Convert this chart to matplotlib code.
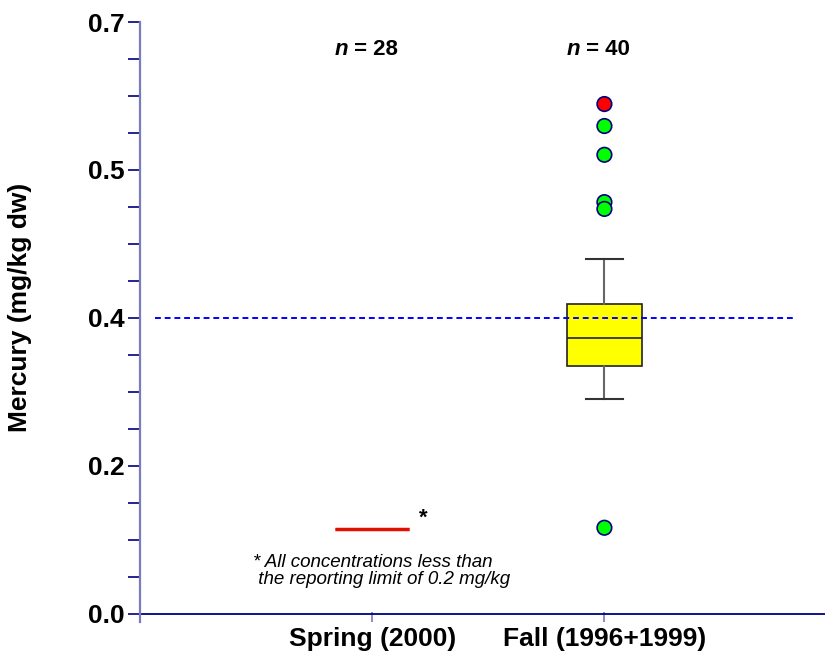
import matplotlib.pyplot as plt
from matplotlib.ticker import MultipleLocator

# data
seasons = ['Spring (2000)', 'Fall (1996+1999)']
n_counts = [28, 40]
spring_value = 0.1005          # all below reporting limit
fall_whislo = 0.254
fall_q1 = 0.293
fall_med = 0.326
fall_q3 = 0.367
fall_whishi = 0.420
fall_outliers = [0.603, 0.577, 0.543, 0.487, 0.479, 0.102]
outlier_colors = ['red', 'lime', 'lime', 'lime', 'lime', 'lime']
guide_level = 0.35
ytick_vals = [0.0, 0.175, 0.35, 0.525, 0.7]
ytick_labels = ['0.0', '0.2', '0.4', '0.5', '0.7']

plt.rcParams['font.family'] = ['Liberation Sans', 'DejaVu Sans']

fig = plt.figure(figsize=(8.3, 6.55), dpi=100)
ax = fig.add_axes([140/830, 33.4/655, 685/830, 599.6/655])

navy = '#000080'
pale = '#7a7abf'

spring_stats = dict(med=spring_value, q1=spring_value, q3=spring_value,
                    whislo=spring_value, whishi=spring_value, fliers=[])
ax.bxp([spring_stats], positions=[1], widths=0.32, patch_artist=True,
       showcaps=False,
       boxprops=dict(facecolor='#ff8c1a', edgecolor='red', linewidth=2.5),
       medianprops=dict(color='#dd1100', linewidth=2.0),
       whiskerprops=dict(linewidth=0))

fall_stats = dict(med=fall_med, q1=fall_q1, q3=fall_q3,
                  whislo=fall_whislo, whishi=fall_whishi, fliers=[])
ax.bxp([fall_stats], positions=[2], widths=0.32, patch_artist=True,
       boxprops=dict(facecolor='yellow', edgecolor='#222222', linewidth=1.2),
       medianprops=dict(color='#222222', linewidth=1.2),
       whiskerprops=dict(color='#666666', linewidth=1.5),
       capprops=dict(color='#333333', linewidth=1.5), capwidths=0.16)

ax.scatter([2] * len(fall_outliers), fall_outliers, s=110, c=outlier_colors,
           edgecolors=navy, linewidths=1.2, zorder=4)

ax.plot([0.065, 2.82], [guide_level, guide_level], color='blue',
        linestyle=(0, (3, 2)), linewidth=1.4, zorder=3)
ax.axhline(0, color=navy, linewidth=1.3)

for i, n in enumerate(n_counts):
    xn = i + 1 - 0.105
    ax.text(xn, 0.667, 'n', ha='right', va='center', fontsize=16,
            fontweight='bold', style='italic')
    ax.text(xn, 0.667, f' = {n}', ha='left', va='center', fontsize=16,
            fontweight='bold')

ax.text(1.22, 0.113, '*', fontsize=16, fontweight='bold', ha='center', va='center')
ax.text(0.487, 0.051, '* All concentrations less than\n the reporting limit of 0.2 mg/kg',
        fontsize=13.5, style='italic', ha='left', va='center', linespacing=1.0)

ax.set_xlim(0, 2.95)
ax.set_ylim(-0.009, 0.7)
ax.set_xticks([1, 2])
ax.set_xticklabels(seasons, fontsize=19, fontweight='bold')
ax.tick_params(axis='x', direction='in', length=7, width=1.2, color=pale, pad=4)
ax.set_yticks(ytick_vals)
ax.set_yticklabels(ytick_labels, fontsize=19, fontweight='bold')
ax.yaxis.set_minor_locator(MultipleLocator(0.04375))
ax.tick_params(axis='y', which='both', direction='out', length=9, width=1.2,
               color=navy, pad=2)

for s in ['top', 'right', 'bottom']:
    ax.spines[s].set_visible(False)
ax.spines['left'].set_color(pale)
ax.spines['left'].set_linewidth(1.6)

fig.text(20/830, 1 - 307/655, 'Mercury (mg/kg dw)', rotation=90, ha='center',
         va='center', fontsize=19, fontweight='bold')

fig.savefig('out.png', dpi=100)
